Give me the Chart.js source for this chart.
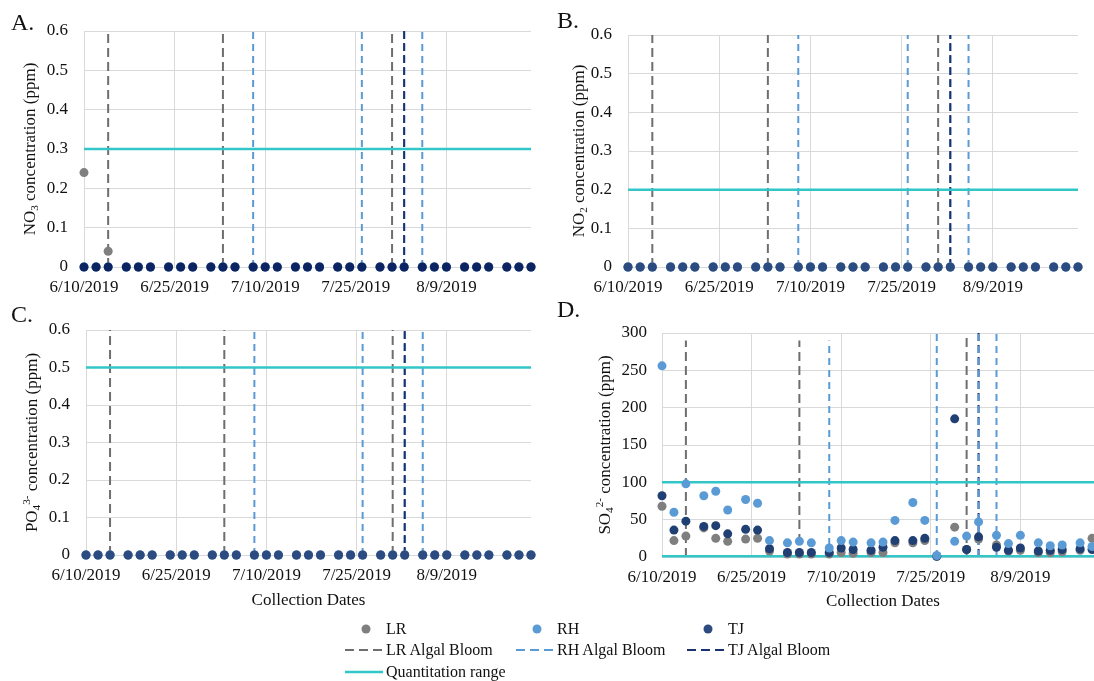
<!DOCTYPE html>
<html>
<head>
<meta charset="utf-8">
<script src="https://cdn.jsdelivr.net/npm/chart.js@4.4.1/dist/chart.umd.min.js"></script>
<style>
  html, body { margin: 0; padding: 0; background: #fff; overflow: hidden; }
  #page { position: relative; width: 1094px; height: 681px; overflow: hidden;
          font-family: 'Liberation Serif', 'Times New Roman', serif; color: #111; }
  canvas { position: absolute; }
  .tag { position: absolute; font-size: 24px; line-height: 24px; }
  .lg-icon { position: absolute; }
  .lg-text { position: absolute; font-size: 16px; line-height: 20px; white-space: nowrap; }
</style>
</head>
<body>
<div id="page">
  <canvas id="chartA" width="545" height="300" style="left:0;top:0"></canvas>
  <canvas id="chartB" width="549" height="300" style="left:545px;top:0"></canvas>
  <canvas id="chartC" width="545" height="320" style="left:0;top:300px"></canvas>
  <canvas id="chartD" width="570" height="320" style="left:545px;top:300px"></canvas>

  <div class="tag" style="left:11px;top:10px">A.</div>
  <div class="tag" style="left:557px;top:8px">B.</div>
  <div class="tag" style="left:11px;top:302px">C.</div>
  <div class="tag" style="left:557px;top:297px">D.</div>

  <!-- legend -->
  <svg class="lg-icon" style="left:356px;top:619px" width="20" height="20"><circle cx="10" cy="10" r="4.5" fill="#7f7f7f"/></svg>
  <div class="lg-text" style="left:386px;top:619px">LR</div>
  <svg class="lg-icon" style="left:527px;top:619px" width="20" height="20"><circle cx="10" cy="10" r="4.5" fill="#5b9bd5"/></svg>
  <div class="lg-text" style="left:557px;top:619px">RH</div>
  <svg class="lg-icon" style="left:698px;top:619px" width="20" height="20"><circle cx="10" cy="10" r="4.5" fill="#2c4b80"/></svg>
  <div class="lg-text" style="left:728px;top:619px">TJ</div>

  <svg class="lg-icon" style="left:345px;top:640px" width="40" height="20"><line x1="0" y1="10" x2="38" y2="10" stroke="#6e6e6e" stroke-width="2" stroke-dasharray="9 5"/></svg>
  <div class="lg-text" style="left:386px;top:640px">LR Algal Bloom</div>
  <svg class="lg-icon" style="left:516px;top:640px" width="40" height="20"><line x1="0" y1="10" x2="38" y2="10" stroke="#5b9bd5" stroke-width="2" stroke-dasharray="9 5"/></svg>
  <div class="lg-text" style="left:557px;top:640px">RH Algal Bloom</div>
  <svg class="lg-icon" style="left:687px;top:640px" width="40" height="20"><line x1="0" y1="10" x2="38" y2="10" stroke="#1a3272" stroke-width="2" stroke-dasharray="9 5"/></svg>
  <div class="lg-text" style="left:728px;top:640px">TJ Algal Bloom</div>

  <svg class="lg-icon" style="left:345px;top:662px" width="40" height="20"><line x1="0" y1="10" x2="38" y2="10" stroke="#33c6c8" stroke-width="2.5"/></svg>
  <div class="lg-text" style="left:386px;top:662px">Quantitation range</div>
</div>

<script>
// Sampling dates (Mon / Wed / Fri schedule)
const sampleDates = ['6/10/2019','6/12/2019','6/14/2019','6/17/2019','6/19/2019','6/21/2019',
  '6/24/2019','6/26/2019','6/28/2019','7/1/2019','7/3/2019','7/5/2019','7/8/2019','7/10/2019',
  '7/12/2019','7/15/2019','7/17/2019','7/19/2019','7/22/2019','7/24/2019','7/26/2019','7/29/2019',
  '7/31/2019','8/2/2019','8/5/2019','8/7/2019','8/9/2019','8/12/2019','8/14/2019','8/16/2019',
  '8/19/2019','8/21/2019','8/23/2019'];

const xTickLabels = ['6/10/2019','6/25/2019','7/10/2019','7/25/2019','8/9/2019'];

// Algal bloom observation dates per site
const lrBloomDates = ['6/14/2019','7/3/2019','7/31/2019'];
const rhBloomDates = ['7/8/2019','7/26/2019','8/2/2019','8/5/2019'];
const tjBloomDates = ['8/2/2019'];

// A. Nitrate (ppm)
const nitrateLR = [0.24,0,0.04,0,0,0,0,0,0,0,0,0,0,0,0,0,0,0,0,0,0,0,0,0,0,0,0,0,0,0,0,0,0];
const nitrateRH = [0,0,0,0,0,0,0,0,0,0,0,0,0,0,0,0,0,0,0,0,0,0,0,0,0,0,0,0,0,0,0,0,0];
const nitrateTJ = [0,0,0,0,0,0,0,0,0,0,0,0,0,0,0,0,0,0,0,0,0,0,0,0,0,0,0,0,0,0,0,0,0];
const nitrateLimits = [0.3];

// B. Nitrite (ppm)
const nitriteLR = [0,0,0,0,0,0,0,0,0,0,0,0,0,0,0,0,0,0,0,0,0,0,0,0,0,0,0,0,0,0,0,0,0];
const nitriteRH = [0,0,0,0,0,0,0,0,0,0,0,0,0,0,0,0,0,0,0,0,0,0,0,0,0,0,0,0,0,0,0,0,0];
const nitriteTJ = [0,0,0,0,0,0,0,0,0,0,0,0,0,0,0,0,0,0,0,0,0,0,0,0,0,0,0,0,0,0,0,0,0];
const nitriteLimits = [0.2];

// C. Phosphate (ppm)
const phosphateLR = [0,0,0,0,0,0,0,0,0,0,0,0,0,0,0,0,0,0,0,0,0,0,0,0,0,0,0,0,0,0,0,0,0];
const phosphateRH = [0,0,0,0,0,0,0,0,0,0,0,0,0,0,0,0,0,0,0,0,0,0,0,0,0,0,0,0,0,0,0,0,0];
const phosphateTJ = [0,0,0,0,0,0,0,0,0,0,0,0,0,0,0,0,0,0,0,0,0,0,0,0,0,0,0,0,0,0,0,0,0];
const phosphateLimits = [0.5];

// D. Sulfate (ppm)
const sulfateLR = [68,22,28,39,25,21,24,25,8,4,4,4,4,6,5,6,6,19,19,22,1,40,10,24,16,8,9,6,6,7,9,25,null];
const sulfateRH = [256,60,98,82,88,63,77,72,22,19,21,19,12,22,20,19,20,49,73,49,2,21,28,47,29,18,29,19,15,16,19,14,null];
const sulfateTJ = [82,36,48,41,42,31,37,36,11,6,6,6,6,12,10,9,13,22,22,25,1,185,10,27,13,9,12,8,9,10,11,10,null];
const sulfateLimits = [1, 100];
const sulfateLrBloomTop = [290, 290, 300];
const sulfateRhBloomTop = [290, 300, 300, 300];
const sulfateTjBloomTop = [300];

const SERIF = "'Liberation Serif', 'Times New Roman', serif";
const C_LR = '#7f7f7f', C_RH = '#5b9bd5', C_CYAN = '#33c6c8';
const C_LR_LINE = '#6e6e6e', C_TJ_LINE = '#1a3272';
const GRID = '#d9d9d9';

const START = Date.UTC(2019, 5, 10);
function dayOf(s) {
  const p = s.split('/').map(Number);
  return (Date.UTC(p[2], p[0] - 1, p[1]) - START) / 86400000;
}
const sampleDays = sampleDates.map(dayOf);
const xMax = sampleDays[sampleDays.length - 1];
const xTickDays = xTickLabels.map(dayOf);

function points(values) {
  const out = [];
  values.forEach((v, i) => { if (v !== null) out.push({ x: sampleDays[i], y: v }); });
  return out;
}

function dotSet(label, values, color, order) {
  return { label, data: points(values), showLine: false, pointRadius: 4.5, pointHoverRadius: 4.5,
           pointBackgroundColor: color, pointBorderWidth: 0, order, clip: false };
}

function bloomSets(label, dates, tops, color, dash, order) {
  return dates.map((d, i) => ({
    label, showLine: true, borderColor: color, borderWidth: 2, borderDash: dash,
    pointRadius: 0, fill: false, order, clip: false,
    data: [{ x: dayOf(d), y: 0 }, { x: dayOf(d), y: tops[i] }]
  }));
}

function limitSets(limits, order) {
  return limits.map(v => ({
    label: 'Quantitation range', showLine: true, borderColor: C_CYAN, borderWidth: 2.5,
    pointRadius: 0, fill: false, order, clip: false,
    data: [{ x: 0, y: v }, { x: xMax, y: v }]
  }));
}

// Axis titles with chemical sub/superscripts, drawn on the chart canvas
function titlePlugin(spec) {
  return {
    id: 'axisTitles',
    afterDraw(chart) {
      const ctx = chart.ctx, a = chart.chartArea, size = spec.size;
      ctx.save();
      ctx.fillStyle = '#111';
      ctx.textAlign = 'left';
      ctx.textBaseline = 'alphabetic';
      const parts = spec.yTitle.map(p => {
        const font = ((p.sub || p.sup) ? size * 0.66 : size) + 'px ' + SERIF;
        ctx.font = font;
        return { t: p.t, sub: p.sub, sup: p.sup, font, w: ctx.measureText(p.t).width };
      });
      const total = parts.reduce((s, p) => s + p.w, 0);
      ctx.translate(spec.yX, (a.top + a.bottom) / 2);
      ctx.rotate(-Math.PI / 2);
      let x = -total / 2;
      parts.forEach(p => {
        ctx.font = p.font;
        const dy = p.sub ? size * 0.22 : (p.sup ? -size * 0.4 : 0);
        ctx.fillText(p.t, x, size * 0.33 + dy);
        x += p.w;
      });
      ctx.restore();
      if (spec.xTitle) {
        ctx.save();
        ctx.fillStyle = '#111';
        ctx.font = size + 'px ' + SERIF;
        ctx.textAlign = 'center';
        ctx.textBaseline = 'middle';
        ctx.fillText(spec.xTitle, (a.left + a.right) / 2, spec.xY);
        ctx.restore();
      }
    }
  };
}

function makePanel(cfg) {
  const datasets = [].concat(
    cfg.dots,
    limitSets(cfg.limits, 3),
    bloomSets('LR Algal Bloom', lrBloomDates, cfg.lrTop, C_LR_LINE, [9, 5], 6),
    bloomSets('RH Algal Bloom', rhBloomDates, cfg.rhTop, C_RH, [7, 5], cfg.rhLineOrder),
    bloomSets('TJ Algal Bloom', tjBloomDates, cfg.tjTop, C_TJ_LINE, [8, 4], cfg.tjLineOrder)
  );
  new Chart(document.getElementById(cfg.id), {
    type: 'scatter',
    data: { datasets },
    options: {
      responsive: false,
      animation: false,
      events: [],
      layout: { autoPadding: false, padding: { left: 0, top: cfg.padTop, right: cfg.padRight, bottom: 0 } },
      plugins: { legend: { display: false }, tooltip: { enabled: false } },
      scales: {
        x: {
          type: 'linear', min: 0, max: xMax,
          afterBuildTicks: s => { s.ticks = xTickDays.map(v => ({ value: v })); },
          afterFit: s => { s.height = cfg.xHeight; },
          ticks: { callback: (v, i) => xTickLabels[i], color: '#111', padding: 10,
                   font: { family: SERIF, size: 17 }, maxRotation: 0, autoSkip: false },
          grid: { color: GRID, lineWidth: 1, drawTicks: false },
          border: { display: false }
        },
        y: {
          min: 0, max: cfg.yMax,
          afterFit: s => { s.width = cfg.yWidth; },
          ticks: { stepSize: cfg.yStep, callback: v => String(Number(v.toFixed(2))), color: '#111',
                   padding: cfg.yPad, font: { family: SERIF, size: 17 } },
          grid: { color: GRID, lineWidth: 1, drawTicks: false },
          border: { display: false }
        }
      }
    },
    plugins: [titlePlugin(cfg.titles)]
  });
}

makePanel({
  id: 'chartA', yMax: 0.6, yStep: 0.1, yWidth: 84, yPad: 16, padTop: 31, padRight: 14, xHeight: 33,
  dots: [dotSet('TJ', nitrateTJ, '#0d2463', 0), dotSet('RH', nitrateRH, C_RH, 1), dotSet('LR', nitrateLR, C_LR, 2)],
  limits: nitrateLimits,
  lrTop: [0.6, 0.6, 0.6], rhTop: [0.6, 0.6, 0.6, 0.6], tjTop: [0.6], rhLineOrder: 5, tjLineOrder: 4,
  titles: { size: 17, yX: 29, yTitle: [{ t: 'NO' }, { t: '3', sub: true }, { t: ' concentration (ppm)' }] }
});

makePanel({
  id: 'chartB', yMax: 0.6, yStep: 0.1, yWidth: 83, yPad: 16, padTop: 35, padRight: 16, xHeight: 33,
  dots: [dotSet('TJ', nitriteTJ, '#2c4b80', 0), dotSet('RH', nitriteRH, C_RH, 1), dotSet('LR', nitriteLR, C_LR, 2)],
  limits: nitriteLimits,
  lrTop: [0.6, 0.6, 0.6], rhTop: [0.6, 0.6, 0.6, 0.6], tjTop: [0.6], rhLineOrder: 5, tjLineOrder: 4,
  titles: { size: 17, yX: 33, yTitle: [{ t: 'NO' }, { t: '2', sub: true }, { t: ' concentration (ppm)' }] }
});

makePanel({
  id: 'chartC', yMax: 0.6, yStep: 0.1, yWidth: 86, yPad: 16, padTop: 30, padRight: 14, xHeight: 65,
  dots: [dotSet('TJ', phosphateTJ, '#2c4b80', 0), dotSet('RH', phosphateRH, C_RH, 1), dotSet('LR', phosphateLR, C_LR, 2)],
  limits: phosphateLimits,
  lrTop: [0.6, 0.6, 0.6], rhTop: [0.6, 0.6, 0.6, 0.6], tjTop: [0.6], rhLineOrder: 5, tjLineOrder: 4,
  titles: { size: 17, yX: 31, xTitle: 'Collection Dates', xY: 301,
            yTitle: [{ t: 'PO' }, { t: '4', sub: true }, { t: '3-', sup: true }, { t: ' concentration (ppm)' }] }
});

makePanel({
  id: 'chartD', yMax: 300, yStep: 50, yWidth: 117, yPad: 15, padTop: 33, padRight: 11, xHeight: 63,
  dots: [dotSet('RH', sulfateRH, C_RH, 0), dotSet('TJ', sulfateTJ, '#203f73', 1), dotSet('LR', sulfateLR, C_LR, 2)],
  limits: sulfateLimits,
  lrTop: sulfateLrBloomTop, rhTop: sulfateRhBloomTop, tjTop: sulfateTjBloomTop, rhLineOrder: 4, tjLineOrder: 5,
  titles: { size: 17, yX: 59, xTitle: 'Collection Dates', xY: 302,
            yTitle: [{ t: 'SO' }, { t: '4', sub: true }, { t: '2-', sup: true }, { t: ' concentration (ppm)' }] }
});
</script>
</body>
</html>
